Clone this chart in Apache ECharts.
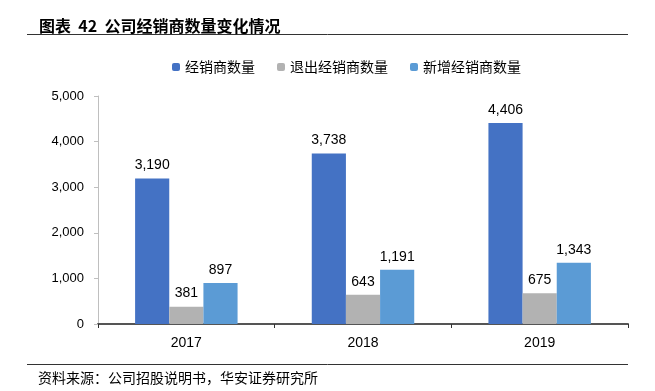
<!DOCTYPE html>
<html><head><meta charset="utf-8">
<script src="https://cdn.jsdelivr.net/npm/echarts@6/dist/echarts.min.js"></script>
<style>html,body{margin:0;padding:0;background:#fff}#c{width:655px;height:391px}</style>
</head><body><div id="c"></div>
<script>
const categories = ['2017', '2018', '2019'];
const seriesNames = ['经销商数量', '退出经销商数量', '新增经销商数量'];
const dealers = [3190, 3738, 4406];
const exitDealers = [381, 643, 675];
const newDealers = [897, 1191, 1343];
const colors = ['#4472C4', '#B2B2B2', '#5B9BD5'];
const chart = echarts.init(document.getElementById('c'));
const lbl = {show: true, position: 'top', color: '#000', fontFamily: 'Liberation Sans, Arial', fontSize: 14,
  formatter: p => p.value.toLocaleString('en-US'), distance: 6};
chart.setOption({
  animation: false,
  title: [{text: '图表  42  公司经销商数量变化情况', left: 34, top: 13,
    textStyle: {fontSize: 16, fontWeight: 'bold', color: '#000', fontFamily: 'Noto Sans CJK SC'}},
    {text: '资料来源：公司招股说明书，华安证券研究所', left: 33, top: 366,
    textStyle: {fontSize: 14, fontWeight: 'normal', color: '#000', fontFamily: 'Noto Sans CJK SC'}}],
  graphic: [
    {type: 'line', shape: {x1: 27, y1: 34.5, x2: 628, y2: 34.5}, style: {stroke: '#333', lineWidth: 1}},
    {type: 'line', shape: {x1: 27, y1: 364.5, x2: 628, y2: 364.5}, style: {stroke: '#333', lineWidth: 1}}
  ],
  legend: {top: 55, left: 167, itemWidth: 8, itemHeight: 8, itemGap: 22,
    textStyle: {fontSize: 14, color: '#000', fontFamily: 'Noto Sans CJK SC'}, data: seriesNames},
  grid: {left: 98, right: 27, top: 96, bottom: 67},
  xAxis: {type: 'category', data: categories,
    axisLine: {lineStyle: {color: '#555', width: 2}},
    axisTick: {show: true, length: 4, lineStyle: {color: '#333'}},
    axisLabel: {fontSize: 14, color: '#000', margin: 12, fontFamily: 'Liberation Sans, Arial'}},
  yAxis: {type: 'value', min: 0, max: 5000, interval: 1000,
    axisLine: {show: true, lineStyle: {color: '#BFBFBF'}},
    axisTick: {show: true, length: 4, lineStyle: {color: '#BFBFBF'}},
    splitLine: {show: false},
    axisLabel: {fontSize: 13, color: '#000', margin: 14, fontFamily: 'Liberation Sans, Arial',
      formatter: v => v.toLocaleString('en-US')}},
  series: [
    {name: seriesNames[0], type: 'bar', data: dealers, itemStyle: {color: colors[0]}, barGap: '0%', barCategoryGap: '42%', label: lbl},
    {name: seriesNames[1], type: 'bar', data: exitDealers, itemStyle: {color: colors[1]}, label: lbl},
    {name: seriesNames[2], type: 'bar', data: newDealers, itemStyle: {color: colors[2]}, label: lbl}
  ]
});
</script></body></html>
